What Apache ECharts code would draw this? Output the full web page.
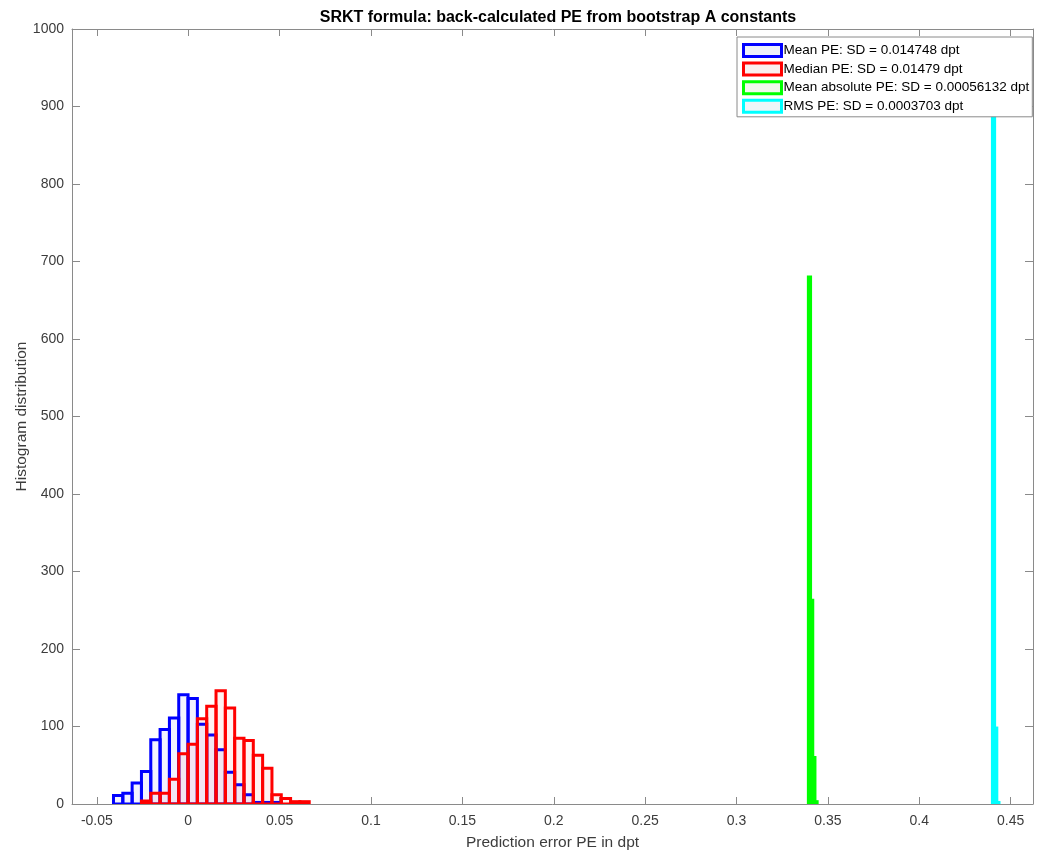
<!DOCTYPE html>
<html><head><meta charset="utf-8">
<script src="https://cdn.jsdelivr.net/npm/echarts@6/dist/echarts.min.js"></script>
<style>html,body{margin:0;padding:0;background:#fff}#c{width:1037px;height:850px}</style>
</head><body><div id="c"></div>
<script>
// Histogram bin specifications and counts
const binWidthPE = 0.0051;
const meanStart = -0.0409;
const meanCounts = [11, 14, 27, 42, 83, 96, 111, 141, 136, 103, 89, 70, 41, 25, 12, 2, 2, 2];
const medianStart = -0.0256;
const medianCounts = [4, 14, 14, 32, 65, 77, 110, 126, 146, 124, 85, 82, 63, 46, 12, 7, 3, 3];
const binWidthAbs = 0.0012;
const absStart = 0.3393;
const absCounts = [680, 263, 60, 3];
const rmsStart = 0.4400;
const rmsCounts = [900, 98, 2];
const seriesNames = [
  'Mean PE: SD = 0.014748 dpt',
  'Median PE: SD = 0.01479 dpt',
  'Mean absolute PE: SD = 0.00056132 dpt',
  'RMS PE: SD = 0.0003703 dpt'
];
const titleText = 'SRKT formula: back-calculated PE from bootstrap A constants';
const xLabel = 'Prediction error PE in dpt';
const yLabel = 'Histogram distribution';
const xMin = -0.0636, xMax = 0.4622;
const yMin = 0, yMax = 1000, yStep = 100;

const colors = ['#0000ff', '#ff0000', '#00ff00', '#00ffff'];
const fills = ['rgba(0,0,255,0.05)', 'rgba(255,0,0,0.05)', 'rgba(0,255,0,0.05)', 'rgba(0,255,255,0.05)'];
const legendFills = ['#eef0fa', '#faefef', '#f1f8ee', '#eef6f8'];

function bins(start, width, counts) {
  return counts.map((c, i) => [start + i * width, start + (i + 1) * width, c]);
}
function histRender(idx) {
  return function (params, api) {
    const a = api.coord([api.value(0), 0]);
    const b = api.coord([api.value(1), api.value(2)]);
    return {
      type: 'rect',
      shape: { x: a[0], y: b[1], width: b[0] - a[0], height: a[1] - b[1] },
      style: { fill: fills[idx], stroke: colors[idx], lineWidth: 3 }
    };
  };
}
const dataSets = [
  bins(meanStart, binWidthPE, meanCounts),
  bins(medianStart, binWidthPE, medianCounts),
  bins(absStart, binWidthAbs, absCounts),
  bins(rmsStart, binWidthAbs, rmsCounts)
];

const axisColor = '#8a8a8a';
const labelColor = '#3c3c3c';
const font = 'Liberation Sans, Arial, Helvetica, sans-serif';

const chart = echarts.init(document.getElementById('c'), null, { renderer: 'canvas' });
chart.setOption({
  animation: false,
  backgroundColor: '#ffffff',
  textStyle: { fontFamily: font },
  title: {
    text: titleText,
    left: 553, top: 5, textAlign: 'center',
    textStyle: { fontSize: 16, fontWeight: 'bold', color: '#000', fontFamily: font }
  },
  grid: { left: 72, right: 4, top: 29, bottom: 46, containLabel: false, outerBoundsMode: 'none' },
  legend: {
    orient: 'vertical',
    left: 737, top: 37,
    padding: [6, 3, 3, 5],
    itemGap: 3.6,
    itemWidth: 38, itemHeight: 12,
    z: 20,
    backgroundColor: '#ffffff',
    borderColor: '#8a8a8a', borderWidth: 1,
    textStyle: { fontSize: 13.5, lineHeight: 15, color: '#000', padding: [0, 0, 0, -3], fontFamily: font },
    data: seriesNames.map((n, i) => ({
      name: n, icon: 'rect',
      itemStyle: { color: legendFills[i], borderColor: colors[i], borderWidth: 3 }
    }))
  },
  xAxis: [{
    type: 'value', min: xMin, max: xMax, splitNumber: 10,
    name: xLabel, nameLocation: 'middle', nameGap: 31, nameMoveOverlap: false,
    nameTextStyle: { fontSize: 15.5, color: labelColor },
    axisLine: { show: true, onZero: false, lineStyle: { color: axisColor, width: 1 } },
    axisTick: { show: true, inside: true, length: 7, lineStyle: { color: axisColor } },
    axisLabel: { show: true, fontSize: 14, color: labelColor, margin: 10, showMinLabel: false, showMaxLabel: false },
    splitLine: { show: false }
  }, {
    type: 'value', min: xMin, max: xMax, splitNumber: 10, position: 'top',
    axisLine: { show: true, onZero: false, lineStyle: { color: axisColor, width: 1 } },
    axisTick: { show: true, inside: true, length: 7, lineStyle: { color: axisColor } },
    axisLabel: { show: false },
    splitLine: { show: false }
  }],
  yAxis: [{
    type: 'value', min: yMin, max: yMax, interval: yStep,
    name: yLabel, nameLocation: 'middle', nameGap: 42, nameMoveOverlap: false,
    nameTextStyle: { fontSize: 15.5, color: labelColor },
    axisLine: { show: true, onZero: false, lineStyle: { color: axisColor, width: 1 } },
    axisTick: { show: true, inside: true, length: 8, lineStyle: { color: axisColor } },
    axisLabel: { show: true, fontSize: 14, color: labelColor, margin: 8, formatter: v => String(v) },
    splitLine: { show: false }
  }, {
    type: 'value', min: yMin, max: yMax, interval: yStep, position: 'right',
    axisLine: { show: true, onZero: false, lineStyle: { color: axisColor, width: 1 } },
    axisTick: { show: true, inside: true, length: 8, lineStyle: { color: axisColor } },
    axisLabel: { show: false },
    splitLine: { show: false }
  }],
  series: dataSets.map((d, i) => ({
    name: seriesNames[i],
    type: 'custom',
    xAxisIndex: 0, yAxisIndex: 0,
    renderItem: histRender(i),
    encode: { x: [0, 1], y: 2 },
    itemStyle: { color: colors[i] },
    clip: true,
    z: 2,
    data: d
  }))
});
</script>
</body></html>
